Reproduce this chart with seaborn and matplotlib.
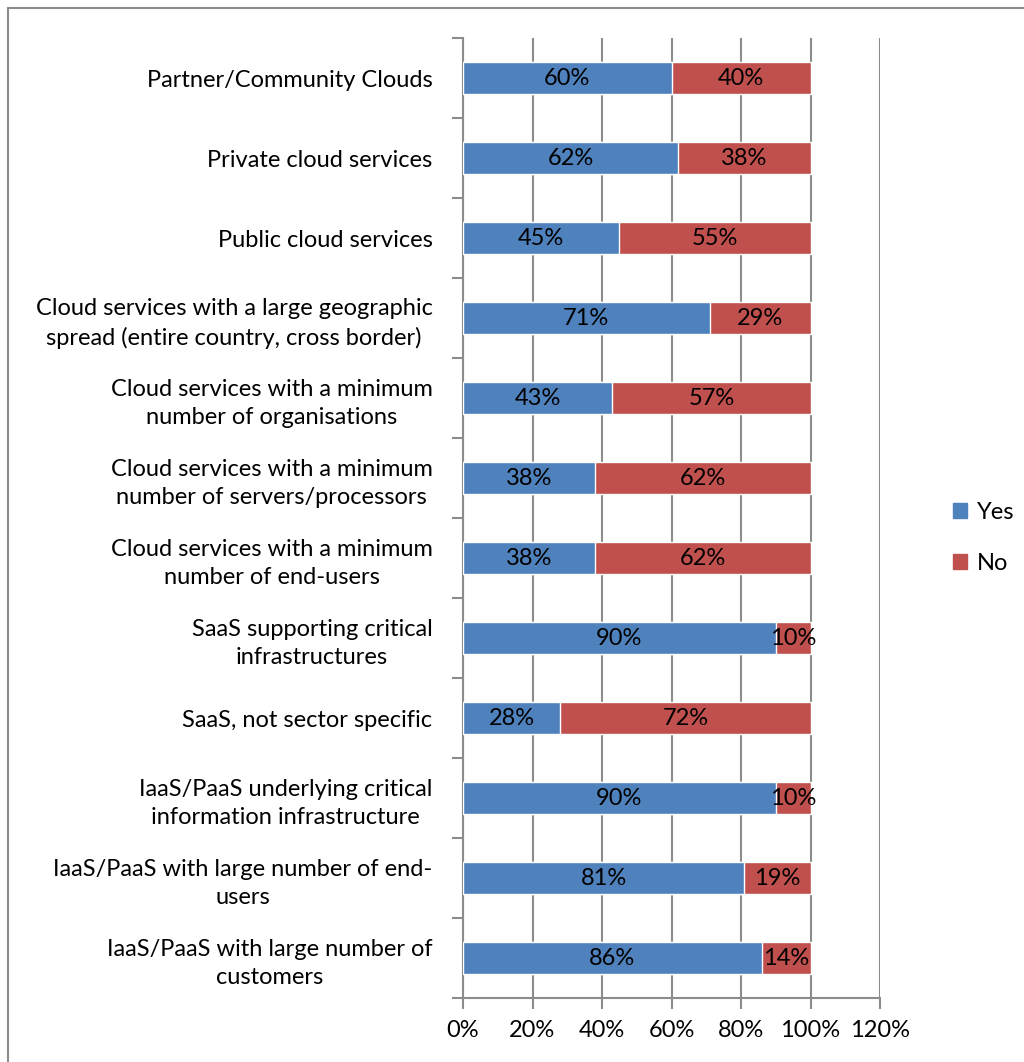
import matplotlib
matplotlib.use("Agg")
import matplotlib.pyplot as plt
import seaborn as sns
import pandas as pd
from matplotlib.patches import Rectangle, Patch
from matplotlib.ticker import FixedLocator, PercentFormatter

sns.set_style("white")
plt.rcParams['font.family'] = ['Lato', 'DejaVu Sans']
plt.rcParams['text.color'] = 'black'
plt.rcParams['xtick.color'] = 'black'
plt.rcParams['ytick.color'] = 'black'

categories = [
    "Partner/Community Clouds",
    "Private cloud services",
    "Public cloud services",
    "Cloud services with a large geographic\nspread (entire country, cross border)",
    "Cloud services with a minimum\nnumber of organisations",
    "Cloud services with a minimum\nnumber of servers/processors",
    "Cloud services with a minimum\nnumber of end-users",
    "SaaS supporting critical\ninfrastructures",
    "SaaS, not sector specific",
    "IaaS/PaaS underlying critical\ninformation infrastructure",
    "IaaS/PaaS with large number of end-\nusers",
    "IaaS/PaaS with large number of\ncustomers",
]
yes = [60, 62, 45, 71, 43, 38, 38, 90, 28, 90, 81, 86]
no = [40, 38, 55, 29, 57, 62, 62, 10, 72, 10, 19, 14]

blue = "#4F81BD"
red = "#C0504D"
grid_c = "#8C8C8C"
fs = 17

df = pd.DataFrame({"cat": categories, "yes": yes, "no": no})
df["total"] = df["yes"] + df["no"]

fig = plt.figure(figsize=(10.24, 10.62), dpi=100)
ax = fig.add_axes([463 / 1024, 1 - 998 / 1062, (880 - 463) / 1024, (998 - 38) / 1062])

sns.barplot(data=df, x="total", y="cat", color=red, width=0.4, saturation=1,
            orient="h", ax=ax, zorder=3)
sns.barplot(data=df, x="yes", y="cat", color=blue, width=0.4, saturation=1,
            orient="h", ax=ax, zorder=4)

for i, (y_, n_) in enumerate(zip(yes, no)):
    ax.text(y_ / 2, i, f"{y_}%", ha="center", va="center", fontsize=fs, zorder=5)
    ax.text(y_ + n_ / 2, i, f"{n_}%", ha="center", va="center", fontsize=fs, zorder=5)

ax.set_xlim(0, 120)
ax.set_ylim(len(categories) - 0.5, -0.5)
ax.set_xticks(range(0, 121, 20))
ax.xaxis.set_major_formatter(PercentFormatter(decimals=0))
ax.set_xlabel("")
ax.set_ylabel("")
ax.xaxis.grid(True, color=grid_c, linewidth=1.5, zorder=0)
ax.set_axisbelow(True)

for s in ["top", "right"]:
    ax.spines[s].set_visible(False)
for s in ["left", "bottom"]:
    ax.spines[s].set_color(grid_c)
    ax.spines[s].set_linewidth(1.5)

ax.yaxis.set_minor_locator(FixedLocator([i - 0.5 for i in range(len(categories) + 1)]))
ax.tick_params(axis="y", which="major", length=0, labelsize=fs, pad=22)
ax.tick_params(axis="y", which="minor", length=8, width=1.5, color=grid_c, left=True)
ax.tick_params(axis="x", which="major", length=8, width=1.5, color=grid_c,
               labelsize=fs, pad=8, bottom=True, direction="out")
for lbl in ax.get_yticklabels():
    lbl.set_multialignment("center")
    lbl.set_linespacing(1.4)

handles = [Patch(color=blue, label="Yes"), Patch(color=red, label="No")]
fig.legend(handles=handles, loc="center left", bbox_to_anchor=(932 / 1024, 1 - 538 / 1062),
           frameon=False, fontsize=fs, handlelength=0.6, handleheight=0.6,
           labelspacing=1.25, handletextpad=0.4)

fig.patches.append(Rectangle((8 / 1024, -0.1), 1.2, 1 - 8 / 1062 + 0.1, transform=fig.transFigure,
                             fill=False, edgecolor="#8C8C8C", linewidth=1.5))

fig.savefig("out.png", dpi=100)
